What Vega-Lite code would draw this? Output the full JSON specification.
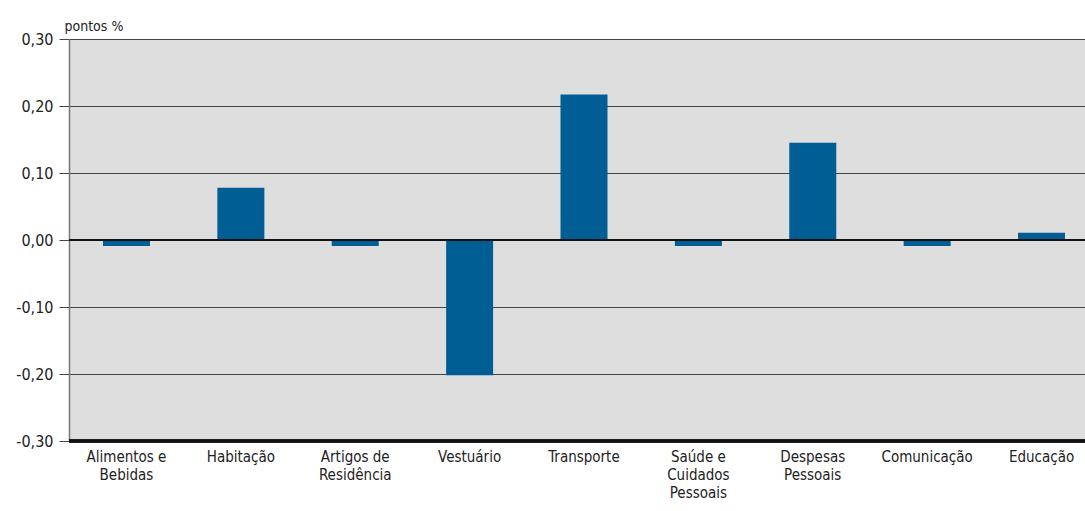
{
  "$schema": "https://vega.github.io/schema/vega-lite/v6.json",
  "autosize": "none",
  "width": 1016,
  "height": 402,
  "padding": {"left": 69, "top": 39, "right": 0, "bottom": 70},
  "background": "white",
  "config": {
    "font": "DejaVu Sans Condensed, Roboto, sans-serif",
    "view": {"fill": "#DEDEDE", "stroke": null}
  },
  "data": {
    "values": [
      {"categoria": "Alimentos e Bebidas", "valor": -0.009},
      {"categoria": "Habitação", "valor": 0.078},
      {"categoria": "Artigos de Residência", "valor": -0.009},
      {"categoria": "Vestuário", "valor": -0.202},
      {"categoria": "Transporte", "valor": 0.217},
      {"categoria": "Saúde e Cuidados Pessoais", "valor": -0.009},
      {"categoria": "Despesas Pessoais", "valor": 0.145},
      {"categoria": "Comunicação", "valor": -0.009},
      {"categoria": "Educação", "valor": 0.011}
    ]
  },
  "layer": [
    {
      "mark": {"type": "bar", "color": "#005E94"},
      "encoding": {
        "x": {
          "field": "categoria",
          "type": "nominal",
          "sort": null,
          "scale": {"paddingInner": 0.589, "paddingOuter": 0.297, "range": [0, 1030]},
          "axis": {
            "title": null,
            "labelAngle": 0,
            "labelFontSize": 15,
            "labelColor": "#222",
            "labelPadding": 8,
            "labelLineHeight": 18,
            "ticks": false,
            "domain": false,
            "labelExpr": "datum.value == 'Alimentos e Bebidas' ? ['Alimentos e', 'Bebidas'] : datum.value == 'Artigos de Residência' ? ['Artigos de', 'Residência'] : datum.value == 'Saúde e Cuidados Pessoais' ? ['Saúde e', 'Cuidados', 'Pessoais'] : datum.value == 'Despesas Pessoais' ? ['Despesas', 'Pessoais'] : datum.value"
          }
        },
        "y": {
          "field": "valor",
          "type": "quantitative",
          "scale": {"domain": [-0.3, 0.3], "nice": false},
          "axis": {
            "values": [-0.3, -0.2, -0.1, 0, 0.1, 0.2, 0.3],
            "labelExpr": "replace(replace(format(datum.value, '.2f'), '.', ','), '\u2212', '-')",
            "labelFontSize": 16,
            "labelColor": "#222",
            "labelPadding": 6,
            "tickSize": 10,
            "tickColor": "#444",
            "gridColor": "#444",
            "gridWidth": 1,
            "domainColor": "#777",
            "domainWidth": 1.5,
            "title": "pontos %",
            "titleAngle": 0,
            "titleAlign": "left",
            "titleBaseline": "bottom",
            "titleX": -5,
            "titleY": -6,
            "titleFontSize": 14,
            "titleFontWeight": "normal",
            "titleColor": "#222"
          }
        }
      }
    },
    {
      "mark": {"type": "rule", "color": "#111", "strokeWidth": 2},
      "encoding": {"y": {"datum": 0}}
    },
    {
      "mark": {"type": "rule", "color": "#111", "strokeWidth": 2.5},
      "encoding": {"y": {"datum": -0.3}}
    }
  ]
}
